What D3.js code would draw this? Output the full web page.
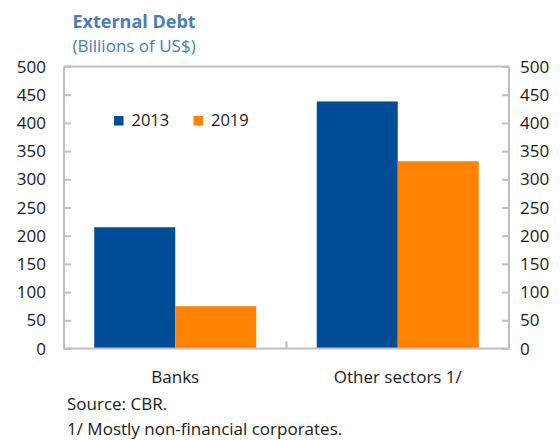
<!DOCTYPE html>
<html>
<head>
<meta charset="utf-8">
<script src="https://cdn.jsdelivr.net/npm/d3@7"></script>
<style>
  html, body { margin: 0; padding: 0; background: #fff; }
  svg { display: block; font-family: "Open Sans", "Noto Sans", sans-serif; }
</style>
</head>
<body>
<svg id="chart" width="560" height="440"></svg>
<script>
// External debt by sector, billions of US$
const categories = ["Banks", "Other sectors 1/"];
const seriesNames = ["2013", "2019"];
const values2013 = [215, 438];
const values2019 = [75, 332];
const yTicks = [0, 50, 100, 150, 200, 250, 300, 350, 400, 450, 500];
const colors = ["#004c97", "#ff8200"];

const rows = categories.map((c, i) => ({
  category: c,
  values: [
    { series: seriesNames[0], value: values2013[i] },
    { series: seriesNames[1], value: values2019[i] }
  ]
}));

const svg = d3.select("#chart");
const plotLeft = 64, plotRight = 509, plotTop = 66.5, plotBottom = 348.5;
const frameColor = "#bfbfbf";
const textColor = "#1a1a1a";

const y = d3.scaleLinear().domain([0, 500]).range([plotBottom, plotTop]);
const x0 = d3.scaleBand().domain(categories).range([plotLeft, plotRight]).padding(0);
const x1 = d3.scaleBand().domain(seriesNames).range([0, x0.bandwidth()])
  .paddingInner(0).paddingOuter(0.3735);
const color = d3.scaleOrdinal().domain(seriesNames).range(colors);

// Title
svg.append("text").attr("x", 72.5).attr("y", 27.5)
  .attr("font-size", 18).attr("font-weight", 700).attr("fill", "#4a7db5")
  .text("External Debt");
svg.append("text").attr("x", 72.5).attr("y", 52)
  .attr("font-size", 17).attr("fill", "#4a7db5")
  .text("(Billions of US$)");

// Bars
const groups = svg.append("g").selectAll("g").data(rows).join("g")
  .attr("transform", d => `translate(${x0(d.category)},0)`);
groups.selectAll("rect").data(d => d.values).join("rect")
  .attr("x", d => x1(d.series))
  .attr("y", d => y(d.value))
  .attr("width", x1.bandwidth())
  .attr("height", d => y(0) - y(d.value))
  .attr("fill", d => color(d.series));

// Frame: top border
svg.append("line").attr("x1", plotLeft).attr("x2", plotRight)
  .attr("y1", plotTop).attr("y2", plotTop)
  .attr("stroke", frameColor).attr("stroke-width", 2);

// Left axis, ticks pointing inward
const yLeft = svg.append("g").attr("transform", `translate(${plotLeft},0)`)
  .call(d3.axisRight(y).tickValues(yTicks).tickSize(7).tickFormat(""));
// Right axis, ticks pointing inward
const yRight = svg.append("g").attr("transform", `translate(${plotRight},0)`)
  .call(d3.axisLeft(y).tickValues(yTicks).tickSize(7).tickFormat(""));
[yLeft, yRight].forEach(g => {
  g.select(".domain").attr("stroke", frameColor).attr("stroke-width", 2)
    .attr("d", `M0,${plotBottom}V${plotTop}`);
  g.selectAll(".tick line").attr("stroke", frameColor).attr("stroke-width", 2);
});

// Tick labels on both sides
svg.append("g").selectAll("text").data(yTicks).join("text")
  .attr("x", 46).attr("y", d => y(d)).attr("dy", "0.36em")
  .attr("text-anchor", "end").attr("font-size", 17).attr("fill", textColor)
  .text(d => d);
svg.append("g").selectAll("text").data(yTicks).join("text")
  .attr("x", 520).attr("y", d => y(d)).attr("dy", "0.36em")
  .attr("text-anchor", "start").attr("font-size", 17).attr("fill", textColor)
  .text(d => d);

// Bottom axis with category separator tick
const xAxis = svg.append("g").attr("transform", `translate(0,${plotBottom})`)
  .call(d3.axisBottom(x0).tickSize(0).tickFormat(""));
xAxis.select(".domain").attr("stroke", frameColor).attr("stroke-width", 2)
  .attr("d", `M${plotLeft - 1},0H${plotRight + 1}`);
xAxis.selectAll(".tick").remove();
svg.append("line")
  .attr("x1", x0(categories[1])).attr("x2", x0(categories[1]))
  .attr("y1", plotBottom).attr("y2", plotBottom - 7)
  .attr("stroke", frameColor).attr("stroke-width", 2);

// Category labels
svg.append("g").selectAll("text").data(categories).join("text")
  .attr("x", d => x0(d) + x0.bandwidth() / 2).attr("y", 383)
  .attr("text-anchor", "middle").attr("font-size", 17).attr("fill", textColor)
  .text(d => d);

// Legend
const legendX = [114, 193.5];
const legend = svg.append("g").selectAll("g").data(seriesNames).join("g")
  .attr("transform", (d, i) => `translate(${legendX[i]},116)`);
legend.append("rect").attr("width", 9.5).attr("height", 9.5)
  .attr("fill", d => color(d));
legend.append("text").attr("x", 17.5).attr("y", 9.9)
  .attr("font-size", 16.5).attr("fill", textColor).text(d => d);

// Notes
svg.append("text").attr("x", 67).attr("y", 409.5).attr("font-size", 17)
  .attr("fill", textColor).text("Source: CBR.");
svg.append("text").attr("x", 67).attr("y", 435).attr("font-size", 17)
  .attr("fill", textColor).text("1/ Mostly non-financial corporates.");
</script>
</body>
</html>
